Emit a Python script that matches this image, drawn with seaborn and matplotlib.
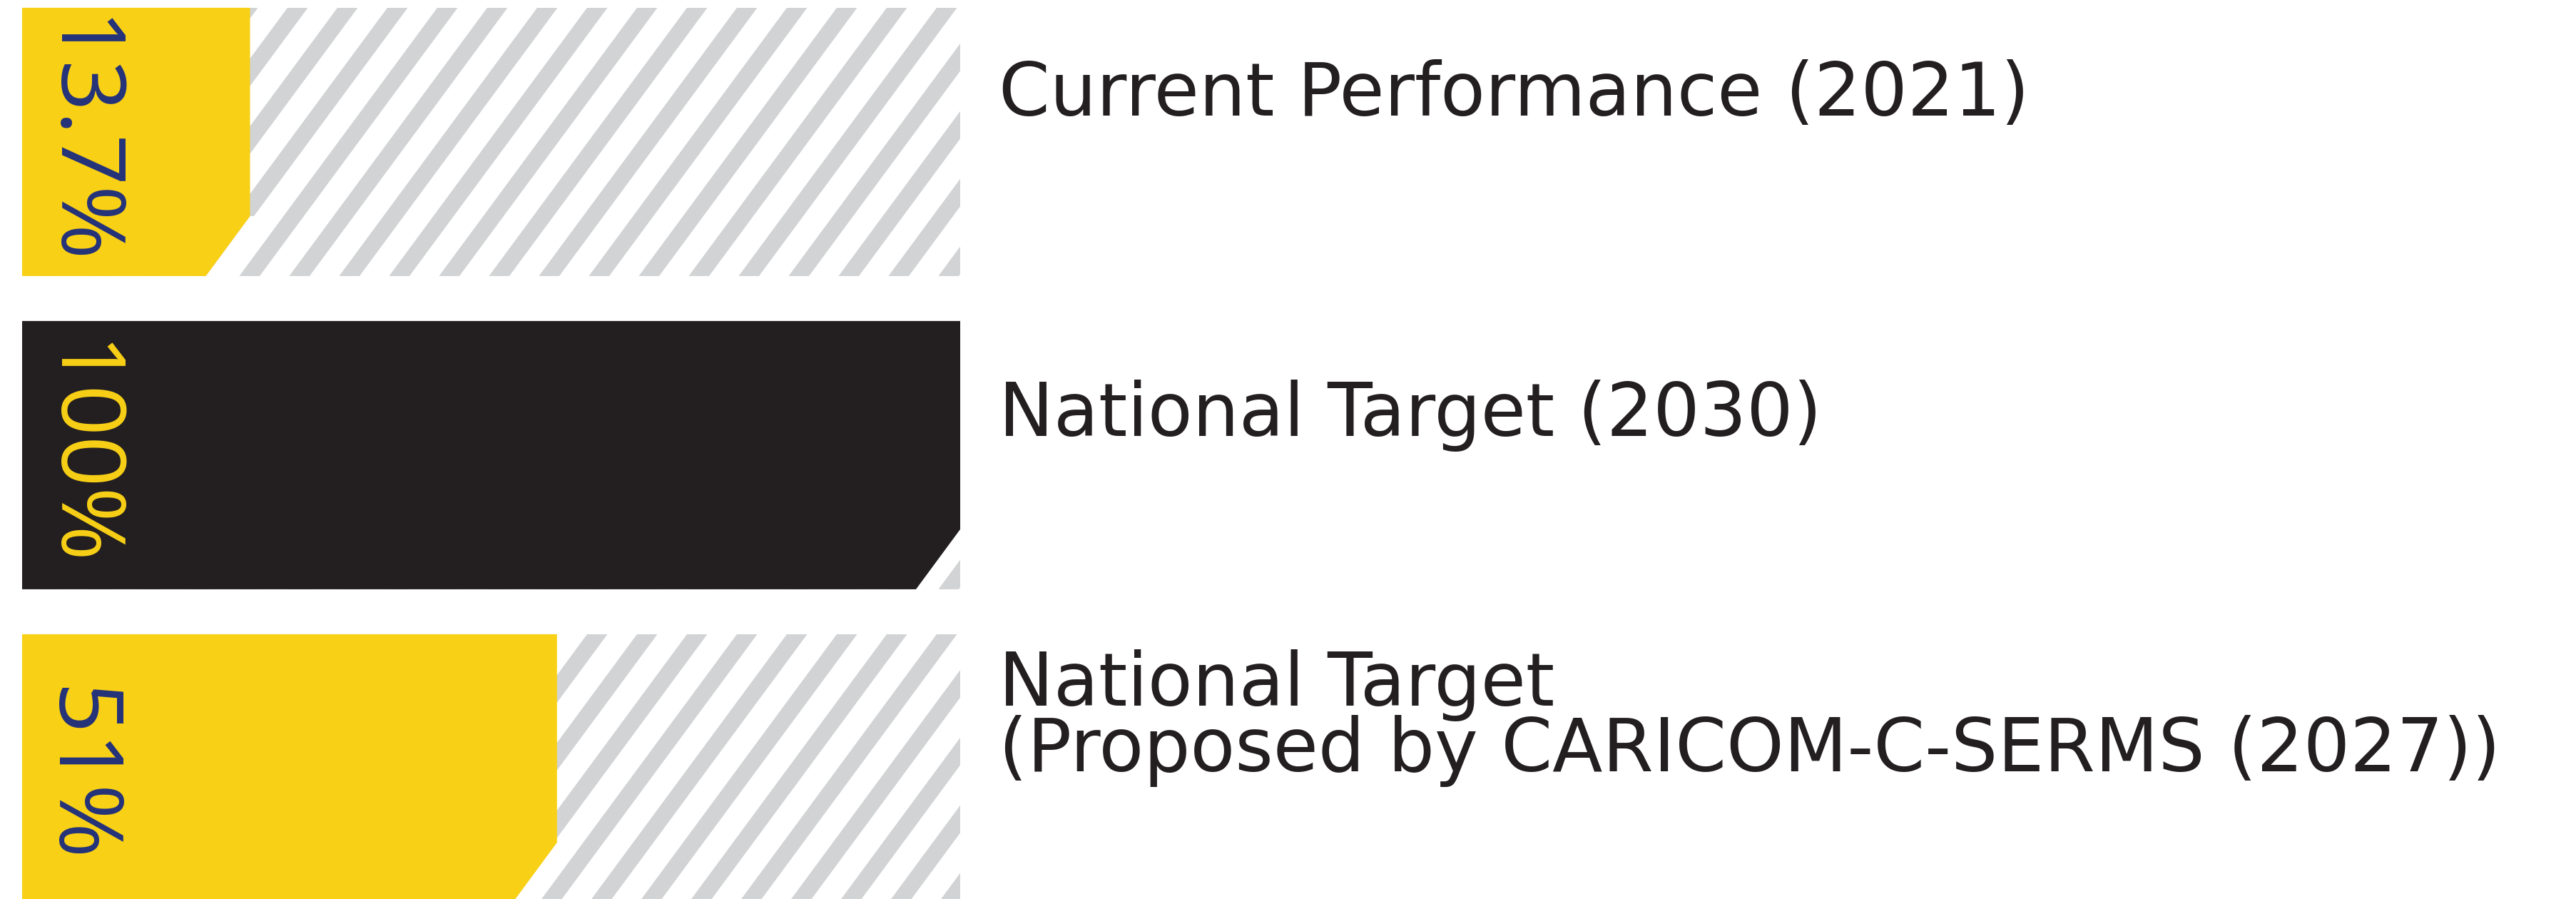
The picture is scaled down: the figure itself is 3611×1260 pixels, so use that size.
import numpy as np
import pandas as pd
import matplotlib
matplotlib.use("Agg")
import matplotlib.pyplot as plt
import seaborn as sns
from matplotlib.patches import Polygon
from matplotlib.transforms import blended_transform_factory

# ---------------- data ----------------
categories = [
    "Current Performance (2021)",
    "National Target (2030)",
    "National Target\n(Proposed by CARICOM-C-SERMS (2027))",
]
values = [13.7, 100, 51]
value_labels = ["13.7%", "100%", "51%"]
scale_max = 100

# ---------------- style ----------------
YELLOW = "#F8D016"
BLACK = "#231F20"
NAVY = "#24327A"
GRAY = "#D1D3D4"
fill_colors = [YELLOW, BLACK, YELLOW]
label_colors = [NAVY, YELLOW, NAVY]
TEXT_DY = [-0.150, -0.127, -0.160]
LABEL_DY = [0.0, 0.0, 0.02]

W, H, DPI = 3611, 1260, 100
sns.set_theme(style="white")
plt.rcParams["font.family"] = ["DejaVu Sans"]

fig = plt.figure(figsize=(W / DPI, H / DPI), dpi=DPI)
fig.patch.set_facecolor("white")
AX_L, AX_R = 31, 1346
ax = fig.add_axes([AX_L / W, 0, (AX_R - AX_L) / W, 1])

BAND = 14.0            # label strip to the left of the zero line (data units)
BAR_W = 376 / 439      # bar thickness relative to category spacing
YLIM = (2.417, -0.453)

df = pd.DataFrame({"category": categories, "value": values,
                   "full": [scale_max] * len(values)})

# background (hatched) bars -> full scale
sns.barplot(data=df, y="category", x="full", color="white", width=BAR_W,
            ax=ax, orient="h", saturation=1, linewidth=0)
n_bg = len(ax.patches)
# filled bars -> values
sns.barplot(data=df, y="category", x="value", hue="category",
            palette=dict(zip(categories, fill_colors)), width=BAR_W, ax=ax,
            orient="h", saturation=1, legend=False, linewidth=0)

ax.set_xlim(-BAND, scale_max)
ax.set_ylim(*YLIM)
ax.set_axis_off()

# pixel scales
sx = (AX_R - AX_L) / (scale_max + BAND)   # px per x unit
sy = H / (YLIM[0] - YLIM[1])              # px per y unit
SLOPE = 62 / 84                            # dx/dy of slanted edges (px)
slant_dy = 84 / sy
slant_dx = 62 / sx
gap = 31 / sx
period = 70 / sx
stripe_w = 28.5 / sx
phase = 22 / sx

bg_patches = sorted(ax.patches[:n_bg], key=lambda p: p.get_y())
fill_patches = sorted(ax.patches[n_bg:], key=lambda p: p.get_y())

for bg, fp, col in zip(bg_patches, fill_patches, fill_colors):
    bg.set_x(-BAND)
    bg.set_width(bg.get_width() + BAND)
    bg.set_zorder(1)
    yt = bg.get_y()
    h = bg.get_height()
    yb = yt + h
    shear = h * sy * SLOPE / sx
    xs = -BAND + phase - 6 * period
    while xs < scale_max + shear + period:
        poly = Polygon([(xs, yt), (xs + stripe_w, yt),
                        (xs + stripe_w - shear, yb), (xs - shear, yb)],
                       closed=True, facecolor=GRAY, edgecolor="none", zorder=1.5)
        ax.add_patch(poly)
        poly.set_clip_path(bg)
        xs += period

    x0 = -BAND
    xr = fp.get_x() + fp.get_width()
    fp.set_visible(False)
    ys = yb - slant_dy
    band = Polygon([(xr, ys), (xr + gap, ys), (xr - slant_dx + gap, yb),
                    (xr - slant_dx, yb)], closed=True, facecolor="white",
                   edgecolor="none", zorder=1.8)
    ax.add_patch(band)
    band.set_clip_path(bg)
    ax.add_patch(Polygon([(x0, yt), (xr, yt), (xr, ys), (xr - slant_dx, yb),
                          (x0, yb)], closed=True, facecolor=col,
                         edgecolor="none", zorder=2))

# value labels (rotated)
for i, (lab, c) in enumerate(zip(value_labels, label_colors)):
    ax.text(-7.4, i + LABEL_DY[i], lab, rotation=270, ha="center", va="center",
            fontsize=90, color=c, zorder=3, family=["Open Sans", "DejaVu Sans"])

# category labels on the right
trans = blended_transform_factory(fig.transFigure, ax.transData)
for i, cat in enumerate(categories):
    ax.text(1400 / W, i + TEXT_DY[i], cat, transform=trans, ha="left",
            va="center", fontsize=74, color=BLACK, linespacing=0.89,
            clip_on=False, family=["DejaVu Sans"])

fig.savefig("out.png", dpi=DPI, facecolor="white")
